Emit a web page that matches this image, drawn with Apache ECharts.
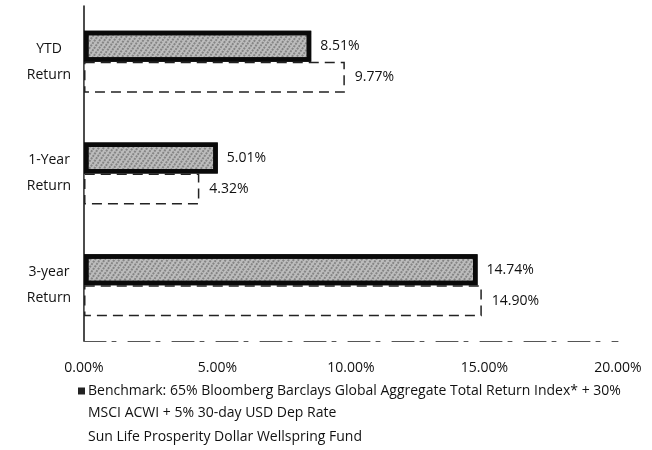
<!DOCTYPE html>
<html>
<head>
<meta charset="utf-8">
<style>
  html, body { margin: 0; padding: 0; background: #fff; }
  #chart { width: 652px; height: 450px; }
</style>
<script src="https://cdn.jsdelivr.net/npm/echarts@6/dist/echarts.min.js"></script>
</head>
<body>
<div id="chart"></div>
<script>
// 收益对比 横向柱状图
const categories = ['YTD\nReturn', '1-Year\nReturn', '3-year\nReturn']
const benchmarkName = 'Benchmark: 65% Bloomberg Barclays Global Aggregate Total Return Index* + 30% MSCI ACWI + 5% 30-day USD Dep Rate'
const fundName = 'Sun Life Prosperity Dollar Wellspring Fund'
const benchmarkValues = [8.51, 5.01, 14.74]
const fundValues = [9.77, 4.32, 14.9]
const xTicks = [0, 5, 10, 15, 20]

const font = '"Open Sans", "Noto Sans", sans-serif'

const myChart = echarts.init(document.getElementById('chart'))
const option = {
  backgroundColor: '#fff',
  textStyle: { fontFamily: font, color: '#111' },
  grid: { left: 84, right: 34, top: 6, bottom: 109 },
  legend: {
    orient: 'vertical',
    left: 78,
    top: 358,
    padding: 0,
    itemWidth: 7,
    itemHeight: 7,
    itemGap: 2,
    data: [
      { name: benchmarkName, icon: 'rect', itemStyle: { color: '#222', decal: 'none', borderWidth: 0 } },
      { name: fundName, icon: 'rect', itemStyle: { color: '#fff', decal: 'none', borderWidth: 0 } },
    ],
    textStyle: { fontFamily: font, fontSize: 14, color: '#111', lineHeight: 22, padding: [0, 0, 0, -2] },
    formatter: function (name) {
      if (name === benchmarkName) {
        // 前面空一行，让图标对齐第一行文字
        return ' \nBenchmark: 65% Bloomberg Barclays Global Aggregate Total Return Index* + 30%\nMSCI ACWI + 5% 30-day USD Dep Rate'
      }
      return name
    },
  },
  xAxis: {
    type: 'value',
    min: xTicks[0],
    max: xTicks[xTicks.length - 1],
    interval: 5,
    axisLine: { show: true, lineStyle: { color: '#555', width: 1, type: [22, 6, 4, 12] } },
    axisTick: { show: false },
    splitLine: { show: false },
    axisLabel: {
      margin: 20,
      fontSize: 14,
      fontFamily: font,
      color: '#111',
      formatter: function (v) {
        return v.toFixed(2) + '%'
      },
    },
  },
  yAxis: {
    type: 'category',
    inverse: true,
    data: categories,
    axisLine: { show: true, lineStyle: { color: '#111', width: 1.5 } },
    axisTick: { show: false },
    axisLabel: {
      margin: 35,
      fontSize: 14,
      fontFamily: font,
      color: '#111',
      lineHeight: 26,
      align: 'center',
    },
  },
  series: [
    {
      name: benchmarkName,
      type: 'bar',
      data: benchmarkValues,
      barWidth: 31,
      barGap: '0%',
      itemStyle: {
        color: '#bdbdbd',
        borderColor: '#0a0a0a',
        borderWidth: 4.5,
        decal: {
          symbol: 'rect',
          symbolSize: 0.7,
          color: 'rgba(10,10,10,0.6)',
          dashArrayX: [2, 2],
          dashArrayY: [2, 1],
          rotation: 0.6,
        },
      },
      label: {
        show: true,
        position: 'right',
        distance: 9,
        fontSize: 14,
        fontFamily: font,
        color: '#111',
        formatter: function (p) {
          return p.value.toFixed(2) + '%'
        },
      },
    },
    {
      name: fundName,
      type: 'bar',
      data: fundValues,
      barWidth: 31,
      itemStyle: {
        color: '#fff',
        borderColor: '#222',
        borderWidth: 1.5,
        borderType: [10, 6],
      },
      label: {
        show: true,
        position: 'right',
        distance: 10,
        fontSize: 14,
        fontFamily: font,
        color: '#111',
        formatter: function (p) {
          return p.value.toFixed(2) + '%'
        },
      },
    },
  ],
}

option && myChart.setOption(option)
</script>
</body>
</html>
